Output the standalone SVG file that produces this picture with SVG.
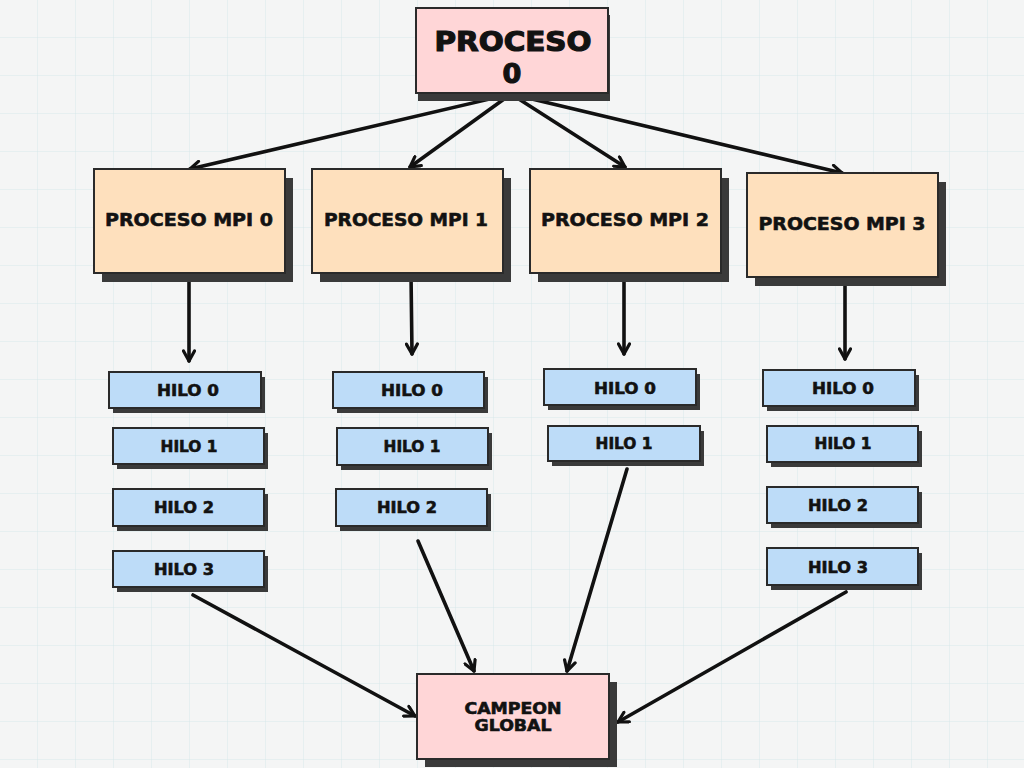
<svg xmlns="http://www.w3.org/2000/svg" width="1024" height="768" viewBox="0 0 1024 768">
<defs>
<pattern id="grid" width="38" height="38" patternUnits="userSpaceOnUse">
<path d="M38 0V38M0 38H38" fill="none" stroke="#d9e8ea" stroke-width="1"/>
</pattern>
<marker id="ah" viewBox="0 0 14 14" refX="12" refY="7" markerWidth="14" markerHeight="14" markerUnits="userSpaceOnUse" orient="auto">
<path d="M2 1.5L12 7L2 12.5" fill="none" stroke="#111" stroke-width="3.2" stroke-linecap="round" stroke-linejoin="round"/>
</marker>
<style>
.sh{fill:#3a3a3a}
.box{stroke:#2a2a2a;stroke-width:2}
.p0{fill:#ffd6d7}
.mpi{fill:#fee0bd}
.hilo{fill:#bddcf8}
.t{font-family:"DejaVu Sans","Liberation Sans",sans-serif;font-weight:700;fill:#121212;stroke:#121212;stroke-width:0.6;text-anchor:middle;dominant-baseline:central}
.big{stroke-width:1.2}
.c{stroke:#111;stroke-width:3.6;fill:none;stroke-linecap:round;marker-end:url(#ah)}
</style>
</defs>
<rect width="1024" height="768" fill="#f4f5f5"/>
<rect width="1024" height="768" fill="url(#grid)"/>

<g id="connectors">
<line class="c" x1="511" y1="94" x2="190" y2="169"/>
<line class="c" x1="511" y1="94" x2="410" y2="167"/>
<line class="c" x1="511" y1="94" x2="625" y2="167"/>
<line class="c" x1="511" y1="94" x2="842" y2="173"/>
<line class="c" x1="189" y1="274" x2="189" y2="361"/>
<line class="c" x1="411" y1="274" x2="412" y2="354"/>
<line class="c" x1="624" y1="274" x2="624" y2="354"/>
<line class="c" x1="845" y1="278" x2="845" y2="359"/>
<line class="c" x1="193" y1="595" x2="415" y2="716"/>
<line class="c" x1="418" y1="541" x2="474" y2="671"/>
<line class="c" x1="627" y1="469" x2="567" y2="671"/>
<line class="c" x1="846" y1="592" x2="618" y2="722"/>
</g>

<g id="proceso0">
<rect class="sh" x="418" y="15" width="192" height="86"/>
<rect class="box p0" x="416" y="8" width="192" height="85"/>
<text class="t big" x="513" y="41" font-size="27" textLength="157" lengthAdjust="spacingAndGlyphs">PROCESO</text>
<text class="t big" x="512" y="73" font-size="27">0</text>
</g>

<g id="mpi0">
<rect class="sh" x="102" y="178" width="191" height="104"/>
<rect class="box mpi" x="94" y="169" width="191" height="104"/>
<text class="t" x="189" y="219" font-size="18" textLength="168" lengthAdjust="spacingAndGlyphs">PROCESO MPI 0</text>
</g>
<g id="mpi1">
<rect class="sh" x="320" y="178" width="191" height="104"/>
<rect class="box mpi" x="312" y="169" width="191" height="104"/>
<text class="t" x="406" y="219" font-size="18" textLength="164" lengthAdjust="spacingAndGlyphs">PROCESO MPI 1</text>
</g>
<g id="mpi2">
<rect class="sh" x="538" y="178" width="191" height="104"/>
<rect class="box mpi" x="530" y="169" width="191" height="104"/>
<text class="t" x="625" y="219" font-size="18" textLength="168" lengthAdjust="spacingAndGlyphs">PROCESO MPI 2</text>
</g>
<g id="mpi3">
<rect class="sh" x="755" y="182" width="191" height="104"/>
<rect class="box mpi" x="747" y="173" width="191" height="104"/>
<text class="t" x="842" y="223" font-size="18" textLength="167" lengthAdjust="spacingAndGlyphs">PROCESO MPI 3</text>
</g>

<g id="h00"><rect class="sh" x="113" y="377" width="152" height="36"/><rect class="box hilo" x="109" y="372" width="152" height="36"/><text class="t" x="188" y="390" font-size="16" textLength="62" lengthAdjust="spacingAndGlyphs">HILO 0</text></g>
<g id="h01"><rect class="sh" x="117" y="433" width="151" height="36"/><rect class="box hilo" x="113" y="428" width="151" height="36"/><text class="t" x="189" y="446" font-size="16" textLength="57" lengthAdjust="spacingAndGlyphs">HILO 1</text></g>
<g id="h02"><rect class="sh" x="117" y="494" width="151" height="37"/><rect class="box hilo" x="113" y="489" width="151" height="37"/><text class="t" x="184" y="507" font-size="16" textLength="60" lengthAdjust="spacingAndGlyphs">HILO 2</text></g>
<g id="h03"><rect class="sh" x="117" y="556" width="151" height="36"/><rect class="box hilo" x="113" y="551" width="151" height="36"/><text class="t" x="184" y="569" font-size="16" textLength="60" lengthAdjust="spacingAndGlyphs">HILO 3</text></g>

<g id="h10"><rect class="sh" x="337" y="377" width="151" height="36"/><rect class="box hilo" x="333" y="372" width="151" height="36"/><text class="t" x="412" y="390" font-size="16" textLength="62" lengthAdjust="spacingAndGlyphs">HILO 0</text></g>
<g id="h11"><rect class="sh" x="341" y="433" width="151" height="37"/><rect class="box hilo" x="337" y="428" width="151" height="37"/><text class="t" x="412" y="446" font-size="16" textLength="57" lengthAdjust="spacingAndGlyphs">HILO 1</text></g>
<g id="h12"><rect class="sh" x="340" y="494" width="151" height="37"/><rect class="box hilo" x="336" y="489" width="151" height="37"/><text class="t" x="407" y="507" font-size="16" textLength="60" lengthAdjust="spacingAndGlyphs">HILO 2</text></g>

<g id="h20"><rect class="sh" x="548" y="374" width="152" height="36"/><rect class="box hilo" x="544" y="369" width="152" height="36"/><text class="t" x="625" y="388" font-size="16" textLength="62" lengthAdjust="spacingAndGlyphs">HILO 0</text></g>
<g id="h21"><rect class="sh" x="552" y="431" width="152" height="35"/><rect class="box hilo" x="548" y="426" width="152" height="35"/><text class="t" x="624" y="443" font-size="16" textLength="57" lengthAdjust="spacingAndGlyphs">HILO 1</text></g>

<g id="h30"><rect class="sh" x="767" y="375" width="152" height="36"/><rect class="box hilo" x="763" y="370" width="152" height="36"/><text class="t" x="843" y="388" font-size="16" textLength="62" lengthAdjust="spacingAndGlyphs">HILO 0</text></g>
<g id="h31"><rect class="sh" x="771" y="431" width="151" height="36"/><rect class="box hilo" x="767" y="426" width="151" height="36"/><text class="t" x="843" y="443" font-size="16" textLength="57" lengthAdjust="spacingAndGlyphs">HILO 1</text></g>
<g id="h32"><rect class="sh" x="771" y="492" width="151" height="36"/><rect class="box hilo" x="767" y="487" width="151" height="36"/><text class="t" x="838" y="505" font-size="16" textLength="60" lengthAdjust="spacingAndGlyphs">HILO 2</text></g>
<g id="h33"><rect class="sh" x="771" y="553" width="151" height="37"/><rect class="box hilo" x="767" y="548" width="151" height="37"/><text class="t" x="838" y="567" font-size="16" textLength="60" lengthAdjust="spacingAndGlyphs">HILO 3</text></g>

<g id="campeon">
<rect class="sh" x="425" y="682" width="192" height="85"/>
<rect class="box p0" x="417" y="674" width="192" height="85"/>
<text class="t" x="513" y="709" font-size="15" textLength="97" lengthAdjust="spacingAndGlyphs">CAMPEON</text>
<text class="t" x="513" y="726" font-size="15" textLength="77" lengthAdjust="spacingAndGlyphs">GLOBAL</text>
</g>
</svg>
